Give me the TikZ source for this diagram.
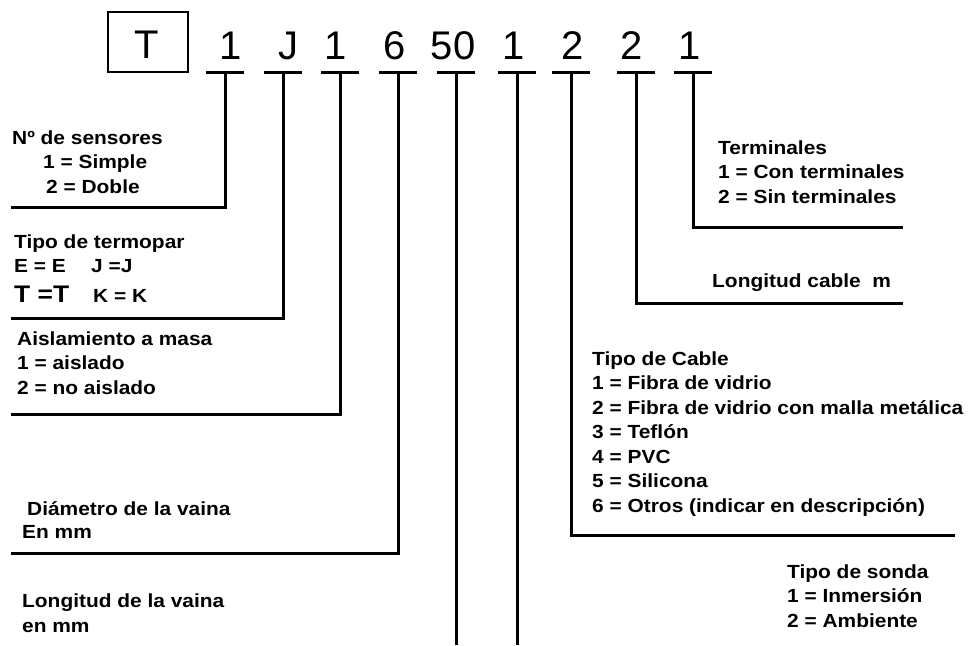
\documentclass[tikz,border=0pt]{standalone}
\usepackage{fontspec}
\setmainfont{Liberation Sans}
\newfontfamily\lblfont{Liberation Sans}[FakeStretch=1.1]
\begin{document}
\begin{tikzpicture}[x=1pt,y=-1pt,
  ln/.style={line width=3pt},
  boxln/.style={line width=2.5pt},
  lbl/.style={anchor=base west, inner sep=0pt, align=left,
    font=\lblfont\bfseries\fontsize{19}{24.5}\selectfont},
  biglbl/.style={anchor=base west, inner sep=0pt,
    font=\lblfont\bfseries\fontsize{24}{24}\selectfont},
  dig/.style={anchor=base, inner sep=0pt, font=\fontsize{40}{40}\selectfont}]
\useasboundingbox (0,0) rectangle (971,645);
% code box
\node[boxln, draw, minimum width=80pt, minimum height=60pt, inner sep=0pt] (box) at (148,42) {};
\node[dig] (dT) at (147,58) {T};
% digits
\node[dig] (d1) at (231,59) {1};
\node[dig] (d2) at (288,59) {J};
\node[dig] (d3) at (336,59) {1};
\node[dig] (d4) at (395,59) {6};
\node[dig] (d5) at (453,59) {50};
\node[dig] (d6) at (514,59) {1};
\node[dig] (d7) at (573,59) {2};
\node[dig] (d8) at (632,59) {2};
\node[dig] (d9) at (690,59) {1};
% stem tops
\coordinate (s1) at (225,72);
\coordinate (s2) at (283,72);
\coordinate (s3) at (340,72);
\coordinate (s4) at (398,72);
\coordinate (s5) at (456,72);
\coordinate (s6) at (517,72);
\coordinate (s7) at (571,72);
\coordinate (s8) at (636,72);
\coordinate (s9) at (693,72);
% bars
\foreach \s in {s1,s2,s3,s4,s5,s6,s7,s8,s9}
  \draw[ln] ([xshift=-19pt]\s) -- ([xshift=19pt]\s);
% connector ends
\coordinate (e1) at (11,207);
\coordinate (e2) at (11,318);
\coordinate (e3) at (11,414);
\coordinate (e4) at (11,553);
\coordinate (e5) at (456,645);
\coordinate (e6) at (517,645);
\coordinate (e7) at (955,535);
\coordinate (e8) at (903,303);
\coordinate (e9) at (903,227);
\draw[ln] (s1) |- (e1);
\draw[ln] (s2) |- (e2);
\draw[ln] (s3) |- (e3);
\draw[ln] (s4) |- (e4);
\draw[ln] (s5) -- (e5);
\draw[ln] (s6) -- (e6);
\draw[ln] (s7) |- (e7);
\draw[ln] (s8) |- (e8);
\draw[ln] (s9) |- (e9);
% labels left (multi-line nodes: base = last line)
\node[lbl] (sens) at (12,144) {Nº de sensores};
\node[lbl] (sens1) at (43,168) {1 = Simple};
\node[lbl] (sens2) at (46,193) {2 = Doble};
\node[lbl] (termo) at (14,248) {Tipo de termopar};
\node[lbl] (termoE) at (14,272) {E = E};
\node[lbl] (termoJ) at (91,272) {J =J};
\node[biglbl] (termoT) at (14,302) {T =T};
\node[lbl] (termoK) at (93,302) {K = K};
\node[lbl] (aisl) at (17,394) {Aislamiento a masa\\1 = aislado\\2 = no aislado};
\node[lbl] (diam) at (27,515) {Diámetro de la vaina};
\node[lbl] (diam2) at (22,538) {En mm};
\node[lbl] (lvaina) at (22,632) {Longitud de la vaina\\en mm};
% labels right
\node[lbl] (term) at (718,203) {Terminales\\1 = Con terminales\\2 = Sin terminales};
\node[lbl] (lcable) at (712,287) {Longitud cable\ \ m};
\node[lbl] (cable) at (592,512) {Tipo de Cable\\1 = Fibra de vidrio\\2 = Fibra de vidrio con malla metálica\\3 = Teflón\\4 = PVC\\5 = Silicona\\6 = Otros (indicar en descripción)};
\node[lbl] (sonda) at (787,627) {Tipo de sonda\\1 = Inmersión\\2 = Ambiente};
\end{tikzpicture}
\end{document}
